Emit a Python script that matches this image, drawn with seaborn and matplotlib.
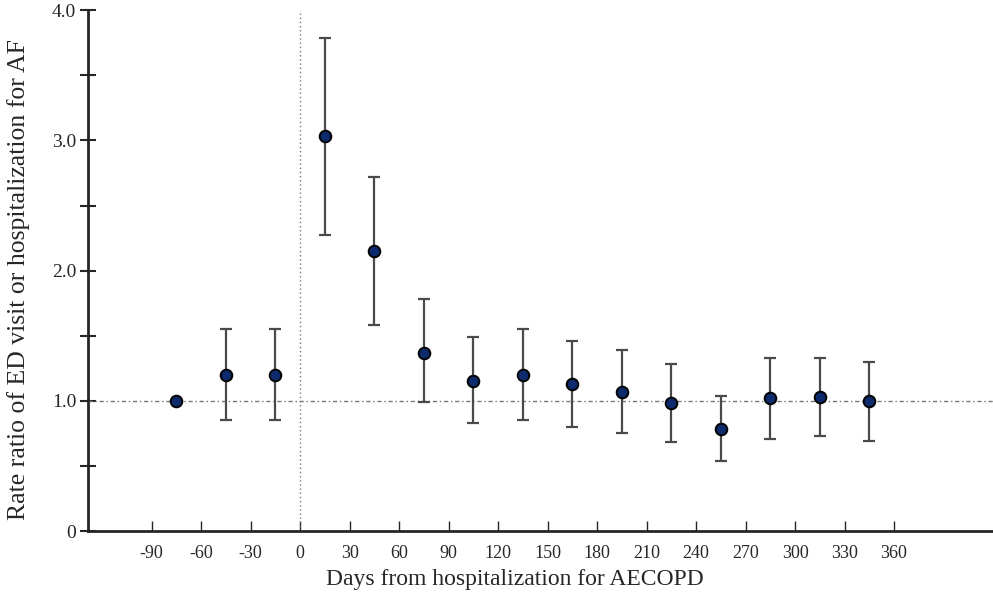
import numpy as np
import pandas as pd
import matplotlib
matplotlib.use("Agg")
import matplotlib.pyplot as plt
import seaborn as sns
from matplotlib.ticker import MultipleLocator

# 30-day windows around the AECOPD hospitalization (midpoints)
days = [-75, -45, -15, 15, 45, 75, 105, 135, 165, 195, 225, 255, 285, 315, 345]
rate_ratio = [1.00, 1.20, 1.20, 3.03, 2.15, 1.37, 1.15, 1.20, 1.13, 1.07, 0.98, 0.78, 1.02, 1.03, 1.00]
ci_low = [np.nan, 0.85, 0.85, 2.27, 1.58, 0.99, 0.83, 0.85, 0.80, 0.75, 0.68, 0.54, 0.71, 0.73, 0.69]
ci_high = [np.nan, 1.55, 1.55, 3.79, 2.72, 1.78, 1.49, 1.55, 1.46, 1.39, 1.28, 1.04, 1.33, 1.33, 1.30]

xticks = list(range(-90, 361, 30))
yticks = [0, 1, 2, 3, 4]
ytick_labels = ["0", "1.0", "2.0", "3.0", "4.0"]

df = pd.DataFrame({"days": days, "rr": rate_ratio, "lo": ci_low, "hi": ci_high})

sns.set_style("ticks")
plt.rcParams["font.family"] = ["Liberation Serif", "DejaVu Serif"]

fig, ax = plt.subplots(figsize=(9.93, 6.0), dpi=100)
fig.subplots_adjust(left=0.0886, right=1.0, bottom=0.115, top=0.983)

# reference lines
ax.axhline(1.0, color="#777777", lw=1, ls=(0, (3, 2, 1, 2)), zorder=1)
ax.axvline(0, color="#777777", lw=1, ls=(0, (1, 2)), zorder=1)

# confidence intervals
ci = df.dropna()
ax.errorbar(ci["days"], ci["rr"],
            yerr=[ci["rr"] - ci["lo"], ci["hi"] - ci["rr"]],
            fmt="none", ecolor="#4a4a4a", elinewidth=1.6, capsize=4, capthick=1.6, zorder=2)

sns.scatterplot(data=df, x="days", y="rr", ax=ax, s=70, color="#0d2a6e",
                edgecolor="black", linewidth=1.4, zorder=3)

ax.set_xlim(-128.6, 420)
ax.set_ylim(0, 4.0)
ax.set_xticks(xticks)
ax.set_xticklabels([str(t) for t in xticks], fontsize=13)
ax.set_yticks(yticks)
ax.set_yticklabels(ytick_labels, fontsize=14)
ax.yaxis.set_minor_locator(MultipleLocator(0.5))

ax.tick_params(axis="y", which="both", direction="inout", length=11, width=1.5, pad=3)
ax.tick_params(axis="x", which="both", direction="in", length=7, width=1, pad=10)
for side in ["top", "right"]:
    ax.spines[side].set_visible(False)
ax.spines["left"].set_linewidth(2)
ax.spines["bottom"].set_linewidth(2)

ax.set_xlabel("Days from hospitalization for AECOPD", fontsize=17)
ax.set_ylabel("Rate ratio of ED visit or hospitalization for AF", fontsize=18.5)
ax.xaxis.set_label_coords(0.472, -0.073)
ax.yaxis.set_label_coords(-0.064, 0.482)

fig.savefig("out.png", dpi=100)
